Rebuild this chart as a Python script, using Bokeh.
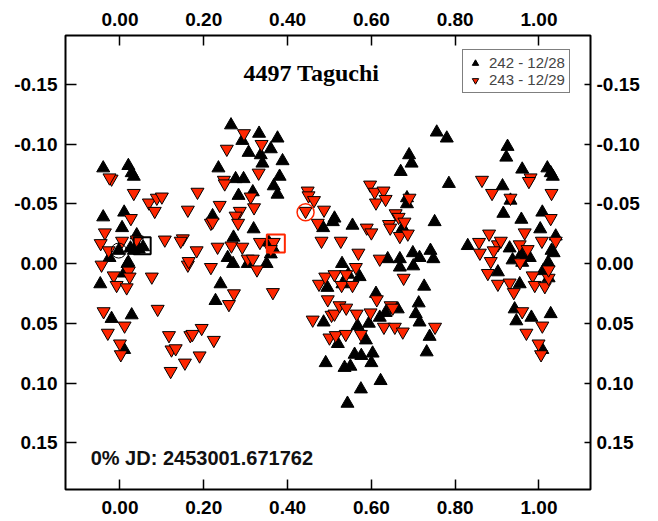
from bokeh.plotting import figure
from bokeh.models import Range1d, LinearAxis, FixedTicker, PrintfTickFormatter, Legend, LegendItem, Label, ColumnDataSource
from bokeh.embed import file_html
from bokeh.resources import INLINE

# ---------------- data ----------------
title_text = "4497 Taguchi"
jd_text = "0%  JD:  2453001.671762"
series_labels = ["242 - 12/28", "243 - 12/29"]
x_ticks = [0.0, 0.2, 0.4, 0.6, 0.8, 1.0]
y_ticks = [-0.15, -0.10, -0.05, 0.0, 0.05, 0.10, 0.15]

# session 242 - 12/28 (phase, delta mag)
s242_phase = [
    -0.040, 0.020, 0.028, 0.033, -0.040, 0.010, 0.005, 0.040, -0.025, -0.003,
    0.025, 0.033, 0.055, 0.020, -0.047, 0.018, 0.010, -0.020, 0.028, 0.010, 0.045,
    0.265, 0.332, 0.376, 0.292, 0.307, 0.336, 0.360, 0.340, 0.388, 0.235,
    0.381, 0.276, 0.295, 0.367, 0.376, 0.317, 0.283, 0.221, 0.319, 0.271,
    0.355, 0.365, 0.257, 0.270, 0.305, 0.350, 0.360, 0.508, 0.485, 0.240, 0.228,
    0.495, 0.486, 0.491,
    0.756, 0.780, 0.690, 0.696, 0.670, 0.785, 0.685, 0.685, 0.512, 0.555,
    0.675, 0.751, 0.699, 0.715, 0.741, 0.748, 0.639, 0.668, 0.530,
    0.572, 0.545, 0.531, 0.668, 0.700, 0.726, 0.611, 0.713, 0.706, 0.715,
    0.663, 0.634, 0.620, 0.594, 0.567, 0.587, 0.520, 0.739, 0.732, 0.560,
    0.576, 0.603, 0.536, 0.550, 0.600, 0.622, 0.575, 0.543,
    0.925, 0.922, 0.960, 1.020, 1.028, 1.033, 0.913, 0.932, 0.915, 0.958,
    1.008, 1.003, 1.040, 0.830, 0.930, 0.958, 0.978, 1.030, 1.035, 0.937,
    1.022, 0.902, 0.954, 1.010, 1.023, 0.942, 0.946, 0.982, 1.028, 1.008, 0.960,
]
s242_mag = [
    -0.080, -0.082, -0.076, -0.073, -0.039, -0.043, -0.030, -0.024, -0.005, -0.011,
    -0.013, -0.011, -0.014, -0.001, 0.017, 0.000, 0.008, 0.046, 0.043, 0.072, -0.012,
    -0.116, -0.109, -0.105, -0.103, -0.093, -0.091, -0.096, -0.084, -0.086, -0.080,
    -0.073, -0.071, -0.071, -0.065, -0.058, -0.060, -0.057, -0.040, -0.029, -0.022,
    -0.018, -0.013, -0.005, 0.000, 0.000, 0.000, -0.008, -0.035, -0.030, 0.017, 0.031,
    0.020, 0.049, 0.083,
    -0.110, -0.105, -0.091, -0.084, -0.077, -0.067, -0.055, -0.050, -0.038, -0.032,
    -0.030, -0.035, -0.009, -0.005, -0.011, -0.004, -0.004, -0.004, 0.000,
    0.011, 0.009, 0.017, 0.003, 0.002, 0.019, 0.025, 0.033, 0.042, 0.049,
    0.038, 0.041, 0.045, 0.050, 0.052, 0.064, 0.067, 0.061, 0.074, 0.076,
    0.077, 0.075, 0.087, 0.086, 0.083, 0.098, 0.105, 0.117,
    -0.098, -0.089, -0.079, -0.080, -0.076, -0.073, -0.065, -0.053, -0.042, -0.037,
    -0.043, -0.029, -0.023, -0.015, -0.013, -0.008, -0.005, -0.011, -0.009, -0.003,
    -0.001, 0.007, 0.017, 0.006, 0.012, 0.038, 0.048, 0.045, 0.042, 0.072, -0.001,
]

# session 243 - 12/29 (phase, delta mag)
s243_phase = [
    -0.020, -0.025, 0.033, 0.069, 0.088, 0.100, 0.083, 0.026, -0.036, -0.046,
    -0.027, 0.040, 0.005, -0.044, -0.015, 0.021, 0.023, -0.008, 0.016, 0.076,
    -0.039, 0.011, -0.029, 0.000, 0.002, 0.090, 0.117, 0.123, 0.133, 0.121,
    0.155, 0.168, 0.173, 0.195, 0.190, 0.162, 0.217, 0.185, 0.162, 0.217,
    0.107, 0.150, 0.145, 0.183, 0.164,
    0.296, 0.338, 0.255, 0.331, 0.248, 0.250, 0.448, 0.450, 0.463, 0.443,
    0.487, 0.472, 0.481, 0.312, 0.320, 0.238, 0.286, 0.276, 0.282, 0.221,
    0.233, 0.266, 0.292, 0.334, 0.367, 0.360, 0.305, 0.317, 0.327, 0.272,
    0.260, 0.365, 0.224, 0.475, 0.490, 0.496, 0.460, 0.505, 0.500, 0.512, 0.512,
    0.597, 0.608, 0.629, 0.611, 0.634, 0.691, 0.658, 0.665, 0.679, 0.642,
    0.645, 0.589, 0.600, 0.668, 0.687, 0.527, 0.569, 0.620, 0.563, 0.540,
    0.529, 0.555, 0.677, 0.613, 0.646, 0.651, 0.524, 0.540, 0.565, 0.598,
    0.630, 0.656, 0.675, 0.752, 0.515, 0.539, 0.575,
    0.864, 0.888, 0.980, 0.976, 1.030, 0.932, 1.028, 0.881, 0.857, 0.859,
    0.902, 0.909, 0.892, 0.966, 0.954, 0.973, 1.007, 1.040, 0.885, 0.955,
    0.878, 0.902, 0.930, 0.940, 0.985, 0.990, 1.014, 1.023, 1.023, 0.960,
    1.008, 0.970, 0.999, 1.005,
]
s243_mag = [
    -0.071, -0.072, -0.059, -0.051, -0.055, -0.056, -0.044, -0.038, -0.026, -0.017,
    -0.011, -0.020, -0.019, 0.001, 0.010, 0.006, 0.011, 0.018, 0.020, 0.011,
    0.040, 0.052, 0.058, 0.067, 0.076, 0.038, 0.060, 0.072, 0.071, 0.090,
    0.083, 0.060, 0.059, 0.054, 0.077, 0.001, 0.003, -0.060, -0.045, -0.034,
    -0.020, -0.021, -0.019, -0.011, -0.002,
    -0.109, -0.100, -0.096, -0.076, -0.070, -0.067, -0.061, -0.057, -0.053, -0.044,
    -0.045, -0.034, -0.019, -0.056, -0.047, -0.049, -0.044, -0.040, -0.034, -0.035,
    -0.014, -0.015, -0.014, -0.018, -0.018, -0.012, -0.004, -0.004, 0.005, 0.025,
    0.034, 0.024, 0.064, 0.017, 0.011, 0.030, 0.047, 0.043, 0.062, 0.009, 0.042,
    -0.066, -0.060, -0.061, -0.051, -0.054, -0.055, -0.042, -0.039, -0.035, -0.033,
    -0.030, -0.030, -0.026, -0.023, -0.025, -0.019, -0.009, -0.004, 0.003, 0.009,
    0.018, 0.018, 0.012, 0.030, 0.035, 0.037, 0.035, 0.037, 0.042, 0.041,
    0.053, 0.053, 0.057, 0.053, 0.060, 0.059, 0.059,
    -0.070, -0.059, -0.072, -0.069, -0.059, -0.055, -0.038, -0.025, -0.018, -0.009,
    -0.016, -0.019, -0.011, -0.026, -0.016, -0.012, -0.019, -0.019, -0.002, -0.001,
    0.008, 0.017, 0.016, 0.024, 0.010, 0.018, 0.019, 0.012, 0.005, 0.040,
    0.052, 0.058, 0.067, 0.076,
]

# highlighted points (session first points / markers)
mark242_sq_phase = [0.053]
mark242_sq_mag = [-0.015]
mark242_ci_phase = [-0.003]
mark242_ci_mag = [-0.011]
mark243_sq_phase = [0.372]
mark243_sq_mag = [-0.017]
mark243_ci_phase = [0.443]
mark243_ci_mag = [-0.043]

RED = "#ff2600"

p = figure(
    frame_width=525, frame_height=454,
    x_range=Range1d(-0.13, 1.123), y_range=Range1d(0.189, -0.191),
    output_backend="svg", toolbar_location=None,
    min_border_left=65, min_border_right=62, min_border_top=35, min_border_bottom=31,
    background_fill_color="white", border_fill_color="white",
)
p.xgrid.visible = False
p.ygrid.visible = False
p.outline_line_color = "black"
p.outline_line_width = 2
p.outline_line_alpha = 1

p.add_layout(LinearAxis(), "above")
p.add_layout(LinearAxis(), "right")

for ax in p.xaxis:
    ax.ticker = FixedTicker(ticks=x_ticks)
    ax.major_tick_in = 10
    ax.major_label_standoff = 10
p.xaxis[1].major_label_standoff = 11
for ax in p.yaxis:
    ax.ticker = FixedTicker(ticks=y_ticks)
    ax.major_tick_in = 11
p.yaxis[0].major_label_standoff = 8
p.yaxis[1].major_label_standoff = 6
p.yaxis[1].major_tick_in = 6
for ax in p.xaxis + p.yaxis:
    ax.formatter = PrintfTickFormatter(format="%.2f")
    ax.major_tick_out = 0
    ax.minor_tick_in = 0
    ax.minor_tick_out = 0
    ax.axis_line_color = None
    ax.major_tick_line_color = "black"
    ax.major_tick_line_width = 1.5
    ax.major_label_text_font = "Liberation Sans"
    ax.major_label_text_font_style = "bold"
    ax.major_label_text_font_size = "19px"
    ax.major_label_text_color = "black"

src242 = ColumnDataSource(dict(x=s242_phase, y=s242_mag))
src243 = ColumnDataSource(dict(x=s243_phase, y=s243_mag))

r242 = p.scatter("x", "y", source=src242, marker="triangle", size=13,
                 fill_color="black", line_color="black", line_width=1)
r243 = p.scatter("x", "y", source=src243, marker="inverted_triangle", size=13,
                 fill_color=RED, line_color="black", line_width=1)

p.scatter(mark242_sq_phase, mark242_sq_mag, marker="square", size=17,
          fill_color=None, line_color="black", line_width=2)
p.scatter(mark242_ci_phase, mark242_ci_mag, marker="circle", size=15,
          fill_color=None, line_color="black", line_width=1)
p.scatter(mark243_sq_phase, mark243_sq_mag, marker="square", size=18,
          fill_color=None, line_color=RED, line_width=2)
p.scatter(mark243_ci_phase, mark243_ci_mag, marker="circle", size=17,
          fill_color=None, line_color=RED, line_width=1.5)

p.add_layout(Label(x=0.457, y=-0.160, text=title_text, text_align="center",
                   text_baseline="middle", text_font="Liberation Serif",
                   text_font_style="bold", text_font_size="24px", text_color="black"))
p.add_layout(Label(x=-0.070, y=0.163, text=jd_text, text_align="left",
                   text_baseline="middle", text_font="Liberation Sans",
                   text_font_style="bold", text_font_size="20px", text_color="#111111"))

legend = Legend(
    items=[LegendItem(label=series_labels[0], renderers=[r242]),
           LegendItem(label=series_labels[1], renderers=[r243])],
    location=(397, 396), padding=4, spacing=0, margin=0,
    glyph_width=16, glyph_height=16, label_height=16, label_standoff=6,
    label_text_font="Liberation Sans", label_text_font_size="15px",
    border_line_color="black", border_line_width=1.5,
    background_fill_color="white", background_fill_alpha=1,
)
p.add_layout(legend)

open("out.html", "w").write(file_html(p, INLINE))
